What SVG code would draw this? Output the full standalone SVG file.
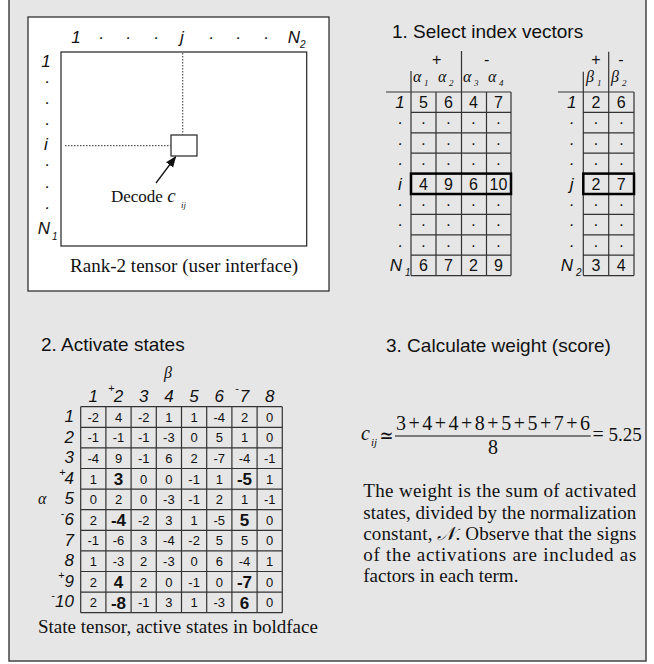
<svg xmlns="http://www.w3.org/2000/svg" width="654" height="664" viewBox="0 0 654 664">
<defs>
<style>
.s{font-family:"Liberation Sans",Arial,sans-serif;fill:#111}
.i{font-family:"Liberation Sans",Arial,sans-serif;font-style:italic;fill:#111}
.t{font-family:"Liberation Serif","Times New Roman",serif;fill:#111}
.ti{font-family:"Liberation Serif","Times New Roman",serif;font-style:italic;fill:#111}
.h{font-family:"Liberation Sans",Arial,sans-serif;font-size:19px;fill:#111}
.g{stroke:#333;stroke-width:1.2;fill:none}
.c{font-family:"Liberation Sans",Arial,sans-serif;font-size:16px;text-anchor:middle;fill:#111}
.n{font-family:"Liberation Sans",Arial,sans-serif;font-size:13px;text-anchor:middle;fill:#111}
.b{font-family:"Liberation Sans",Arial,sans-serif;font-size:17px;font-weight:bold;text-anchor:middle;fill:#111}
.rl{font-family:"Liberation Sans",Arial,sans-serif;font-style:italic;font-size:17px;text-anchor:middle;fill:#111}
.sl{font-family:"Liberation Sans",Arial,sans-serif;font-style:italic;font-size:17px;text-anchor:end;fill:#111}
.sh{font-family:"Liberation Sans",Arial,sans-serif;font-style:italic;font-size:17px;text-anchor:middle;fill:#111}
.sup{font-family:"Liberation Sans",Arial,sans-serif;font-size:11px;text-anchor:middle;fill:#111}
.dot{stroke:#555;stroke-width:1.2;stroke-dasharray:1.5 1.5;fill:none}
</style>
<marker id="ah" viewBox="0 0 10 10" refX="9" refY="5" markerWidth="11" markerHeight="11" markerUnits="userSpaceOnUse" orient="auto">
<path d="M0,1 L10,5 L0,9 Z" fill="#111"/>
</marker>
</defs>
<rect x="0" y="0" width="654" height="664" fill="#ffffff"/>
<rect id="frame" x="9" y="-2" width="637" height="663" fill="#e6e6e6" stroke="#444" stroke-width="1.5"/>

<g id="tensor">
<rect x="28" y="17" width="301" height="274" fill="#ffffff" stroke="#222" stroke-width="1.2"/>
<rect x="61" y="52" width="245.7" height="194" fill="#ffffff" stroke="#222" stroke-width="1.2"/>
<g class="rl">
<text x="76" y="43">1</text><text x="101" y="43">·</text><text x="128" y="43">·</text><text x="156" y="43">·</text>
<text x="182" y="43">j</text><text x="211" y="43">·</text><text x="238" y="43">·</text><text x="266" y="43">·</text>
<text x="294" y="43">N</text>
<text x="46" y="67">1</text><text x="47" y="87">·</text><text x="47" y="108">·</text><text x="47" y="129">·</text>
<text x="46" y="150">i</text><text x="47" y="170">·</text><text x="47" y="192">·</text><text x="47" y="213">·</text>
<text x="44" y="234">N</text>
</g>
<text class="i" x="300" y="48" font-size="10">2</text>
<text class="i" x="52" y="240" font-size="10">1</text>
</g>

<g id="cell-box">
<rect x="171" y="135" width="26" height="21" fill="#ffffff" stroke="#222" stroke-width="1.2"/>
</g>

<g id="decode-label">
<text class="t" x="111" y="202" font-size="17">Decode <tspan class="ti" font-size="19">c</tspan></text>
<text class="ti" x="181" y="208" font-size="9">ij</text>
</g>

<g id="tensor-caption">
<text class="t" x="70" y="272" font-size="19" textLength="228" lengthAdjust="spacingAndGlyphs">Rank-2 tensor (user interface)</text>
</g>

<g id="connectors">
<line class="dot" x1="182.7" y1="53" x2="182.7" y2="135"/>
<line class="dot" x1="65" y1="145.7" x2="171" y2="145.7"/>
<line x1="156" y1="183" x2="175.5" y2="157" stroke="#111" stroke-width="1.3" marker-end="url(#ah)"/>
</g>

<g id="step1">
<text class="h" x="392" y="38">1. Select index vectors</text>
</g>

<g id="alpha-table">
<path class="g" d="M386,92H511 M411,112.4H511 M411,132.8H511 M411,153.2H511 M411,214.4H511 M411,234.8H511 M411,255.2H511 M411,275.6H511 M411,71V275.6 M436,92V275.6 M461.5,51V275.6 M486.5,92V275.6 M511,92V275.6"/>
<rect x="411" y="173.6" width="100" height="20.4" fill="none" stroke="#000" stroke-width="2.5"/>
<text class="s" x="436.7" y="65" font-size="16" text-anchor="middle">+</text>
<text class="s" x="486.7" y="65" font-size="16" text-anchor="middle">-</text>
<g class="ti" font-size="16">
<text x="413" y="82">α</text><text x="438" y="82">α</text><text x="463" y="82">α</text><text x="488" y="82">α</text>
</g>
<g class="ti" font-size="9">
<text x="424" y="86">1</text><text x="449" y="86">2</text><text x="474" y="86">3</text><text x="499" y="86">4</text>
</g>
<g class="rl">
<text x="400" y="108">1</text><text x="400" y="128">·</text><text x="400" y="148.5">·</text><text x="400" y="169">·</text>
<text x="400" y="189.5">i</text><text x="400" y="210">·</text><text x="400" y="230">·</text><text x="400" y="250.5">·</text>
<text x="396" y="271">N</text>
</g>
<text class="i" x="405" y="276" font-size="10">1</text>
<g class="c">
<text x="423.5" y="108">5</text><text x="448.5" y="108">6</text><text x="473.5" y="108">4</text><text x="498.5" y="108">7</text>
<text x="423.5" y="128">·</text><text x="448.5" y="128">·</text><text x="473.5" y="128">·</text><text x="498.5" y="128">·</text>
<text x="423.5" y="148.5">·</text><text x="448.5" y="148.5">·</text><text x="473.5" y="148.5">·</text><text x="498.5" y="148.5">·</text>
<text x="423.5" y="169">·</text><text x="448.5" y="169">·</text><text x="473.5" y="169">·</text><text x="498.5" y="169">·</text>
<text x="423.5" y="189.5">4</text><text x="448.5" y="189.5">9</text><text x="473.5" y="189.5">6</text><text x="498.5" y="189.5">10</text>
<text x="423.5" y="210">·</text><text x="448.5" y="210">·</text><text x="473.5" y="210">·</text><text x="498.5" y="210">·</text>
<text x="423.5" y="230">·</text><text x="448.5" y="230">·</text><text x="473.5" y="230">·</text><text x="498.5" y="230">·</text>
<text x="423.5" y="250.5">·</text><text x="448.5" y="250.5">·</text><text x="473.5" y="250.5">·</text><text x="498.5" y="250.5">·</text>
<text x="423.5" y="271">6</text><text x="448.5" y="271">7</text><text x="473.5" y="271">2</text><text x="498.5" y="271">9</text>
</g>
</g>

<g id="beta-table">
<path class="g" d="M558,92H634 M583.3,112.4H634 M583.3,132.8H634 M583.3,153.2H634 M583.3,214.4H634 M583.3,234.8H634 M583.3,255.2H634 M583.3,275.6H634 M583.3,71.7V275.6 M608.7,51.7V275.6 M634,92V275.6"/>
<rect x="583.3" y="173.6" width="50.7" height="20.4" fill="none" stroke="#000" stroke-width="2.5"/>
<text class="s" x="596" y="65" font-size="16" text-anchor="middle">+</text>
<text class="s" x="621" y="65" font-size="16" text-anchor="middle">-</text>
<g class="ti" font-size="16">
<text x="586" y="82">β</text><text x="611" y="82">β</text>
</g>
<g class="ti" font-size="9">
<text x="597" y="86">1</text><text x="622" y="86">2</text>
</g>
<g class="rl">
<text x="571.7" y="108">1</text><text x="571.7" y="128">·</text><text x="571.7" y="148.5">·</text><text x="571.7" y="169">·</text>
<text x="571.7" y="189.5">j</text><text x="571.7" y="210">·</text><text x="571.7" y="230">·</text><text x="571.7" y="250.5">·</text>
<text x="567" y="271">N</text>
</g>
<text class="i" x="576" y="276" font-size="10">2</text>
<g class="c">
<text x="596" y="108">2</text><text x="621.3" y="108">6</text>
<text x="596" y="128">·</text><text x="621.3" y="128">·</text>
<text x="596" y="148.5">·</text><text x="621.3" y="148.5">·</text>
<text x="596" y="169">·</text><text x="621.3" y="169">·</text>
<text x="596" y="189.5">2</text><text x="621.3" y="189.5">7</text>
<text x="596" y="210">·</text><text x="621.3" y="210">·</text>
<text x="596" y="230">·</text><text x="621.3" y="230">·</text>
<text x="596" y="250.5">·</text><text x="621.3" y="250.5">·</text>
<text x="596" y="271">3</text><text x="621.3" y="271">4</text>
</g>
</g>

<g id="step2">
<text class="h" x="41" y="351">2. Activate states</text>
</g>

<g id="state-table">
<path class="g" d="M80.7,406.7H282.3 M80.7,427.3H282.3 M80.7,447.9H282.3 M80.7,468.5H282.3 M80.7,489.1H282.3 M80.7,509.7H282.3 M80.7,530.3H282.3 M80.7,550.9H282.3 M80.7,571.5H282.3 M80.7,592.1H282.3 M80.7,612.7H282.3 M80.7,406.7V612.7 M105.9,406.7V612.7 M131.1,406.7V612.7 M156.3,406.7V612.7 M181.5,406.7V612.7 M206.7,406.7V612.7 M231.9,406.7V612.7 M257.1,406.7V612.7 M282.3,406.7V612.7"/>
<text class="ti" x="164" y="378" font-size="16">β</text>
<text class="ti" x="38" y="504" font-size="16">α</text>
<g class="sh">
<text x="93.3" y="401.5">1</text><text x="118.5" y="401.5">2</text><text x="143.7" y="401.5">3</text><text x="168.9" y="401.5">4</text>
<text x="194.1" y="401.5">5</text><text x="219.3" y="401.5">6</text><text x="244.5" y="401.5">7</text><text x="269.7" y="401.5">8</text>
</g>
<text class="sup" x="111.5" y="392">+</text>
<text class="sup" x="237" y="392">-</text>
<g class="sl">
<text x="74" y="422">1</text><text x="74" y="442.5">2</text><text x="74" y="463">3</text><text x="74" y="483.7">4</text>
<text x="74" y="504.3">5</text><text x="74" y="525">6</text><text x="74" y="545.5">7</text><text x="74" y="566">8</text>
<text x="74" y="586.7">9</text><text x="74" y="607.3">10</text>
</g>
<text class="sup" x="62.5" y="476">+</text>
<text class="sup" x="62.5" y="517">-</text>
<text class="sup" x="61.5" y="579">+</text>
<text class="sup" x="53" y="599">-</text>
<g class="n">
<text x="93.3" y="421.7">-2</text><text x="118.5" y="421.7">4</text><text x="143.7" y="421.7">-2</text><text x="168.9" y="421.7">1</text><text x="194.1" y="421.7">1</text><text x="219.3" y="421.7">-4</text><text x="244.5" y="421.7">2</text><text x="269.7" y="421.7">0</text>
<text x="93.3" y="442.3">-1</text><text x="118.5" y="442.3">-1</text><text x="143.7" y="442.3">-1</text><text x="168.9" y="442.3">-3</text><text x="194.1" y="442.3">0</text><text x="219.3" y="442.3">5</text><text x="244.5" y="442.3">1</text><text x="269.7" y="442.3">0</text>
<text x="93.3" y="462.9">-4</text><text x="118.5" y="462.9">9</text><text x="143.7" y="462.9">-1</text><text x="168.9" y="462.9">6</text><text x="194.1" y="462.9">2</text><text x="219.3" y="462.9">-7</text><text x="244.5" y="462.9">-4</text><text x="269.7" y="462.9">-1</text>
<text x="93.3" y="483.5">1</text><text x="143.7" y="483.5">0</text><text x="168.9" y="483.5">0</text><text x="194.1" y="483.5">-1</text><text x="219.3" y="483.5">1</text><text x="269.7" y="483.5">1</text>
<text x="93.3" y="504.1">0</text><text x="118.5" y="504.1">2</text><text x="143.7" y="504.1">0</text><text x="168.9" y="504.1">-3</text><text x="194.1" y="504.1">-1</text><text x="219.3" y="504.1">2</text><text x="244.5" y="504.1">1</text><text x="269.7" y="504.1">-1</text>
<text x="93.3" y="524.7">2</text><text x="143.7" y="524.7">-2</text><text x="168.9" y="524.7">3</text><text x="194.1" y="524.7">1</text><text x="219.3" y="524.7">-5</text><text x="269.7" y="524.7">0</text>
<text x="93.3" y="545.3">-1</text><text x="118.5" y="545.3">-6</text><text x="143.7" y="545.3">3</text><text x="168.9" y="545.3">-4</text><text x="194.1" y="545.3">-2</text><text x="219.3" y="545.3">5</text><text x="244.5" y="545.3">5</text><text x="269.7" y="545.3">0</text>
<text x="93.3" y="565.9">1</text><text x="118.5" y="565.9">-3</text><text x="143.7" y="565.9">2</text><text x="168.9" y="565.9">-3</text><text x="194.1" y="565.9">0</text><text x="219.3" y="565.9">6</text><text x="244.5" y="565.9">-4</text><text x="269.7" y="565.9">1</text>
<text x="93.3" y="586.5">2</text><text x="143.7" y="586.5">2</text><text x="168.9" y="586.5">0</text><text x="194.1" y="586.5">-1</text><text x="219.3" y="586.5">0</text><text x="269.7" y="586.5">0</text>
<text x="93.3" y="607.1">2</text><text x="143.7" y="607.1">-1</text><text x="168.9" y="607.1">3</text><text x="194.1" y="607.1">1</text><text x="219.3" y="607.1">-3</text><text x="269.7" y="607.1">0</text>
</g>
<g class="b">
<text x="118.5" y="485">3</text><text x="244.5" y="485">-5</text>
<text x="118.5" y="526.2">-4</text><text x="244.5" y="526.2">5</text>
<text x="118.5" y="588">4</text><text x="244.5" y="588">-7</text>
<text x="118.5" y="608.6">-8</text><text x="244.5" y="608.6">6</text>
</g>
</g>

<g id="state-caption">
<text class="t" x="38" y="633" font-size="19">State tensor, active states in boldface</text>
</g>

<g id="step3">
<text class="h" x="386" y="352">3. Calculate weight (score)</text>
</g>

<g id="formula">
<text class="ti" x="361" y="440" font-size="20">c</text>
<text class="ti" x="371" y="446" font-size="11">ij</text>
<text x="379.5" y="443" font-size="22" font-family="'DejaVu Serif','Liberation Serif',serif" fill="#111" textLength="14" lengthAdjust="spacingAndGlyphs">≃</text>
<text class="t" x="396" y="430" font-size="20" textLength="194" lengthAdjust="spacing">3+4+4+8+5+5+7+6</text>
<line x1="395" y1="436" x2="590.7" y2="436" stroke="#111" stroke-width="1.1"/>
<text class="t" x="493" y="454" font-size="20" text-anchor="middle">8</text>
<text class="t" x="592.5" y="441" font-size="20">=</text>
<text class="t" x="608.5" y="441" font-size="19">5.25</text>
</g>

<g id="explanation" class="t" font-size="19">
<text x="363.3" y="497.3" textLength="273" lengthAdjust="spacing">The weight is the sum of activated</text>
<text x="363.3" y="519.3" textLength="273" lengthAdjust="spacing">states, divided by the normalization</text>
<text x="363.3" y="540" textLength="273" lengthAdjust="spacing">constant, <tspan font-family="'DejaVu Sans','Noto Sans',serif" font-style="italic">𝒩</tspan>. Observe that the signs</text>
<text x="363.3" y="560.7" textLength="273" lengthAdjust="spacing">of the activations are included as</text>
<text x="363.3" y="581.7">factors in each term.</text>
</g>
</svg>
